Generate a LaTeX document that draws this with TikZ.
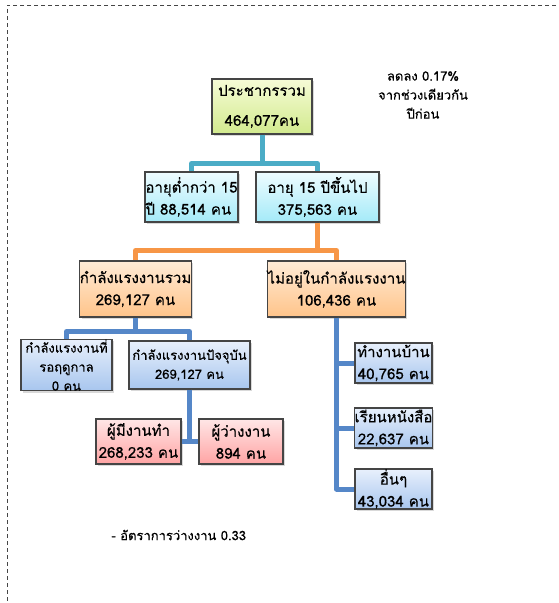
\documentclass[tikz,border=0pt]{standalone}
\usepackage{fontspec}
\newfontfamily\thaifont[Script=Thai, FakeBold=0.4]{Loma}
\usetikzlibrary{shadows}
\definecolor{cyanlink}{HTML}{4BACC6}
\definecolor{orangelink}{HTML}{F79646}
\definecolor{bluelink}{HTML}{5587C8}
\definecolor{boxline}{HTML}{454545}
\definecolor{greentop}{HTML}{F6FBD6}
\definecolor{greenbot}{HTML}{D2EA8E}
\definecolor{cyantop}{HTML}{EEFCFF}
\definecolor{cyanbot}{HTML}{A4EAF8}
\definecolor{orangetop}{HTML}{FFEBD6}
\definecolor{orangebot}{HTML}{FFC48A}
\definecolor{bluetop}{HTML}{E8F0FC}
\definecolor{bluebot}{HTML}{A8C6EE}
\definecolor{redtop}{HTML}{FFE6E6}
\definecolor{redbot}{HTML}{FFA4A4}

\begin{document}
\begin{tikzpicture}[
x = 1pt, y = -1pt,
every node/.style = {
	font = \thaifont
},
big/.style = {
	font = \thaifont\fontsize{15pt}{22pt}\selectfont
},
small/.style = {
	font = \thaifont\fontsize{13pt}{19pt}\selectfont
},
box/.style = {
	draw = boxline,
	line width = 1.1pt,
	inner sep = 0pt,
	align = center,
	drop shadow = {opacity = 0.3, shadow xshift = 2pt, shadow yshift = -2pt}
},
green box/.style = {
	box, big, top color = greentop, bottom color = greenbot
},
cyan box/.style = {
	box, big, top color = cyantop, bottom color = cyanbot
},
orange box/.style = {
	box, big, top color = orangetop, bottom color = orangebot
},
blue box/.style = {
	box, top color = bluetop, bottom color = bluebot
},
red box/.style = {
	box, big, top color = redtop, bottom color = redbot
},
link/.style = {
	line width = 5pt,
	line join = round
},
note/.style = {
	small,
	align = center
}
]

\useasboundingbox (0,0) rectangle (559,603);
\draw[boxline, line width = 0.8pt, dash pattern = on 4pt off 3pt] (570,5) -- (7,5) -- (7,615);

% levels
\node [green box, minimum width=100pt, minimum height=55pt] (total) at (262,106.5) {ประชากรรวม\\[8pt]464,077คน};

\node [cyan box, minimum width=93pt, minimum height=50pt, align=left] (young) at (191.5,197) {อายุต่ำกว่า 15\\ปี 88,514 คน};
\node [cyan box, minimum width=123pt, minimum height=50pt] (adult) at (317.5,197) {อายุ 15 ปีขึ้นไป\\375,563 คน};

\node [orange box, minimum width=107pt, minimum height=56pt] (labour) at (135.5,289) {กำลังแรงงานรวม\\269,127 คน};
\node [orange box, minimum width=125pt, minimum height=56pt] (outside) at (336.5,289) {ไม่อยู่ในกำลังแรงงาน\\106,436 คน};

\node [blue box, small, minimum width=91pt, minimum height=48pt] (seasonal) at (66.5,365) {กำลังแรงงานที่\\รอฤดูกาล\\0 คน};
\node [blue box, small, minimum width=121pt, minimum height=48pt] (current) at (189.5,365) {กำลังแรงงานปัจจุบัน\\269,127 คน};

\node [red box, minimum width=85pt, minimum height=45pt] (employed) at (138.5,441.5) {ผู้มีงานทำ\\268,233 คน};
\node [red box, minimum width=84pt, minimum height=45pt] (unemployed) at (241,441.5) {ผู้ว่างงาน\\894 คน};

\node [blue box, big, minimum width=77pt, minimum height=40pt] (housework) at (393.5,363) {ทำงานบ้าน\\40,765 คน};
\node [blue box, big, minimum width=77pt, minimum height=40pt] (study) at (393.5,428) {เรียนหนังสือ\\22,637 คน};
\node [blue box, big, minimum width=77pt, minimum height=40pt] (other) at (393.5,489) {อื่นๆ\\43,034 คน};

\node [note] (change) at (423,95) {ลดลง 0.17\%\\จากช่วงเดียวกัน\\ปีก่อน};
\node [note, anchor=west] (rate) at (108,535) {- อัตราการว่างงาน 0.33};

% connectors
\draw[link, cyanlink] (total.south) -- ++(0,29) -| (young.north);
\draw[link, cyanlink] (total.south) -- ++(0,29) -| (adult.north);

\draw[link, orangelink] (adult.south) -- ++(0,28) -| (labour.north);
\draw[link, orangelink] (adult.south) -- ++(0,28) -| (outside.north);

\draw[link, bluelink] (labour.south) -- ++(0,14) -| (seasonal.north);
\draw[link, bluelink] (labour.south) -- ++(0,14) -| (current.north);

\draw[link, bluelink] (current.south) |- (employed.east);
\draw[link, bluelink] (current.south) |- (unemployed.west);

\draw[link, bluelink] (outside.south) |- (housework.west);
\draw[link, bluelink] (outside.south) |- (study.west);
\draw[link, bluelink] (outside.south) |- (other.west);

\end{tikzpicture}
\end{document}
